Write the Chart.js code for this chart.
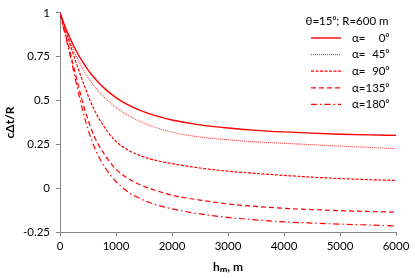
<!DOCTYPE html>
<html>
<head>
<meta charset="utf-8">
<script src="https://cdn.jsdelivr.net/npm/chart.js@4"></script>
<style>
    html, body { margin: 0; padding: 0; background: #fff; }
    #wrap { width: 415px; height: 278px; position: relative; }
</style>
</head>
<body>
<div id="wrap"><canvas id="chart_delay"></canvas></div>
<script>
// heights h_m, m
const heights = [0, 100, 200, 300, 400, 500, 600, 700, 800, 900, 1000, 1200, 1400, 1600, 1800, 2000, 2500, 3000, 3500, 4000, 4500, 5000, 5500, 6000];

// c*dt/R for each alpha
const alpha0   = [1, 0.914, 0.841, 0.777, 0.723, 0.675, 0.634, 0.599, 0.568, 0.541, 0.517, 0.478, 0.448, 0.424, 0.405, 0.389, 0.361, 0.343, 0.330, 0.321, 0.314, 0.308, 0.304, 0.301];
const alpha45  = [1, 0.902, 0.819, 0.746, 0.685, 0.632, 0.587, 0.549, 0.516, 0.487, 0.461, 0.418, 0.385, 0.358, 0.337, 0.319, 0.292, 0.276, 0.264, 0.256, 0.248, 0.240, 0.233, 0.226];
const alpha90  = [1, 0.90, 0.80, 0.705, 0.615, 0.53, 0.455, 0.395, 0.345, 0.302, 0.267, 0.22, 0.19, 0.168, 0.152, 0.14, 0.115, 0.097, 0.084, 0.073, 0.063, 0.055, 0.049, 0.044];
const alpha135 = [1, 0.875, 0.75, 0.62, 0.495, 0.39, 0.305, 0.24, 0.19, 0.145, 0.108, 0.058, 0.024, -0.002, -0.022, -0.04, -0.068, -0.09, -0.104, -0.115, -0.122, -0.128, -0.133, -0.137];
const alpha180 = [1, 0.865, 0.73, 0.585, 0.45, 0.335, 0.245, 0.175, 0.12, 0.075, 0.038, -0.018, -0.055, -0.082, -0.102, -0.118, -0.147, -0.167, -0.181, -0.192, -0.199, -0.205, -0.21, -0.215];

const seriesLabels = ['\u03B1=\u2007\u20070\u2070', '\u03B1=\u200745\u2070', '\u03B1=\u200790\u2070', '\u03B1=135\u2070', '\u03B1=180\u2070'];
const legendTitle = '\u03B8=15\u2070; R=600 m';

const yTicks = [-0.25, 0, 0.25, 0.5, 0.75, 1];
const xTicks = [0, 1000, 2000, 3000, 4000, 5000, 6000];

const FONT = 'Lato, "Open Sans", sans-serif';
const AXIS_GRAY = '#868686';

function toPoints(values) {
    return values.map((v, i) => ({ x: heights[i], y: v }));
}

function lineSet(label, values, dash, width, color) {
    return {
        label: label,
        data: toPoints(values),
        borderColor: color,
        backgroundColor: color,
        borderWidth: width,
        borderDash: dash,
        pointRadius: 0,
        cubicInterpolationMode: 'monotone',
        fill: false
    };
}

const datasets = [
    lineSet(seriesLabels[0], alpha0, [], 1.4, '#ff0000'),
    lineSet(seriesLabels[1], alpha45, [1, 1], 1.1, '#ff4040'),
    lineSet(seriesLabels[2], alpha90, [3, 1.5], 1.2, '#ff0000'),
    lineSet(seriesLabels[3], alpha135, [5, 3], 1.2, '#ff0000'),
    lineSet(seriesLabels[4], alpha180, [6, 3, 1.5, 3], 1.2, '#ff0000')
];

// legend drawn inside the plot, top right
const insideLegend = {
    id: 'insideLegend',
    afterDraw(chart) {
        const ctx = chart.ctx;
        ctx.save();
        ctx.fillStyle = '#000';
        ctx.font = '11.5px ' + FONT;
        ctx.textBaseline = 'middle';
        ctx.textAlign = 'center';
        ctx.fillText(legendTitle, 347, 21);

        ctx.textAlign = 'left';
        chart.data.datasets.forEach((ds, i) => {
            const y = 38 + i * 16.6;
            ctx.beginPath();
            ctx.strokeStyle = ds.borderColor;
            ctx.lineWidth = ds.borderWidth;
            ctx.setLineDash(ds.borderDash);
            ctx.moveTo(311, y);
            ctx.lineTo(341, y);
            ctx.stroke();
            ctx.setLineDash([]);
            ctx.fillText(ds.label, 352, y);
        });
        ctx.restore();
    }
};

new Chart(document.getElementById('chart_delay'), {
    type: 'line',
    data: { datasets: datasets },
    plugins: [insideLegend],
    options: {
        responsive: true,
        maintainAspectRatio: false,
        animation: false,
        layout: { padding: { top: 7, right: 19, left: 0, bottom: 0 } },
        plugins: {
            legend: { display: false },
            tooltip: { enabled: false }
        },
        scales: {
            x: {
                type: 'linear',
                min: 0,
                max: 6000,
                afterBuildTicks: scale => { scale.ticks = xTicks.map(v => ({ value: v })); },
                afterFit: scale => { scale.height = 46; },
                border: { color: AXIS_GRAY, width: 1 },
                grid: { drawOnChartArea: false, drawTicks: true, tickLength: 4, color: AXIS_GRAY },
                ticks: {
                    color: '#000',
                    font: { family: FONT, size: 11.5 },
                    padding: 3,
                    maxRotation: 0,
                    callback: v => String(v)
                },
                title: {
                    display: true,
                    text: 'h\u2098, m',
                    color: '#000',
                    font: { family: FONT, size: 12, weight: 'bold' },
                    padding: { top: 2 }
                }
            },
            y: {
                min: -0.25,
                max: 1,
                afterBuildTicks: scale => { scale.ticks = yTicks.map(v => ({ value: v })); },
                afterFit: scale => { scale.width = 60; },
                border: { color: AXIS_GRAY, width: 1 },
                grid: { drawOnChartArea: false, drawTicks: true, tickLength: 4, color: AXIS_GRAY },
                ticks: {
                    color: '#000',
                    font: { family: FONT, size: 11.5 },
                    padding: 6,
                    callback: v => String(v)
                },
                title: {
                    display: true,
                    text: 'c\u0394t/R',
                    color: '#000',
                    font: { family: FONT, size: 12, weight: 'bold' },
                    padding: { top: 3, bottom: 0 }
                }
            }
        }
    }
});
</script>
</body>
</html>
